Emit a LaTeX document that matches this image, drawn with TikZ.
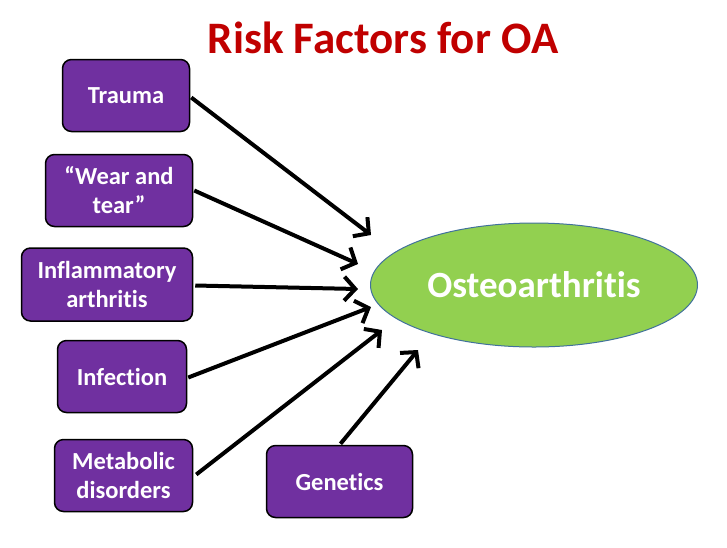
\documentclass[tikz,border=0pt]{standalone}
\usepackage{fontspec}
\setmainfont[Ligatures={NoCommon}]{Carlito}
\usepackage{xcolor}
\usepackage{tikz}
\usetikzlibrary{shapes.geometric, arrows.meta}

\definecolor{oapurple}{HTML}{7030A0}
\definecolor{oagreen}{HTML}{92D050}
\definecolor{oablue}{HTML}{41719C}
\definecolor{oared}{HTML}{C00000}

\begin{document}
\begin{tikzpicture}[
    x=1pt, y=-1pt,
    factor/.style={rectangle, draw=black, line width=1.5pt, rounded corners=9pt, fill=oapurple, text=white, align=center, inner sep=2pt, font=\fontsize{24.5}{29}\selectfont\bfseries},
    arrow/.style={-{Straight Barb[length=11pt, width=24pt]}, line width=4pt}
]
\useasboundingbox (0,0) rectangle (727,547);

% Title
\node[font=\fontsize{45}{50}\selectfont\bfseries, text=oared] (title) at (383,38) {Risk Factors for OA};

% Outcome
\node[ellipse, draw=oablue, line width=1pt, fill=oagreen, minimum width=327pt, minimum height=124pt, text=white, font=\fontsize{37}{42}\selectfont\bfseries] (oa) at (534,285) {Osteoarthritis};

% Risk factors
\node[factor, minimum width=127pt, minimum height=72pt] (trauma) at (126,95.5) {Trauma};
\node[factor, minimum width=147pt, minimum height=72pt] (wear) at (119,190.5) {“Wear and\\tear”};
\node[factor, minimum width=171pt, minimum height=73pt] (inflam) at (107,284.5) {Inflammatory\\arthritis};
\node[factor, minimum width=129pt, minimum height=72pt] (infect) at (122,376.5) {Infection};
\node[factor, minimum width=138pt, minimum height=72pt] (metab) at (123.5,475.5) {Metabolic\\disorders};
\node[factor, minimum width=146pt, minimum height=72pt] (genet) at (339.5,481.5) {Genetics};

% Arrow ends
\coordinate (e1) at (371,235);
\coordinate (e2) at (358,264);
\coordinate (e3) at (358,289);
\coordinate (e4) at (371,307);
\coordinate (e5) at (382,330);
\coordinate (e6) at (418,350);

% Arrows
\draw[arrow] (trauma.east) ++(1,2) -- (e1);
\draw[arrow] (wear.east) ++(1,0) -- (e2);
\draw[arrow] (inflam.east) ++(2,1) -- (e3);
\draw[arrow] (infect.east) ++(1,1) -- (e4);
\draw[arrow] (metab.east) ++(3,-1) -- (e5);
\draw[arrow] (genet.north) ++(1,-1) -- (e6);

\end{tikzpicture}
\end{document}
